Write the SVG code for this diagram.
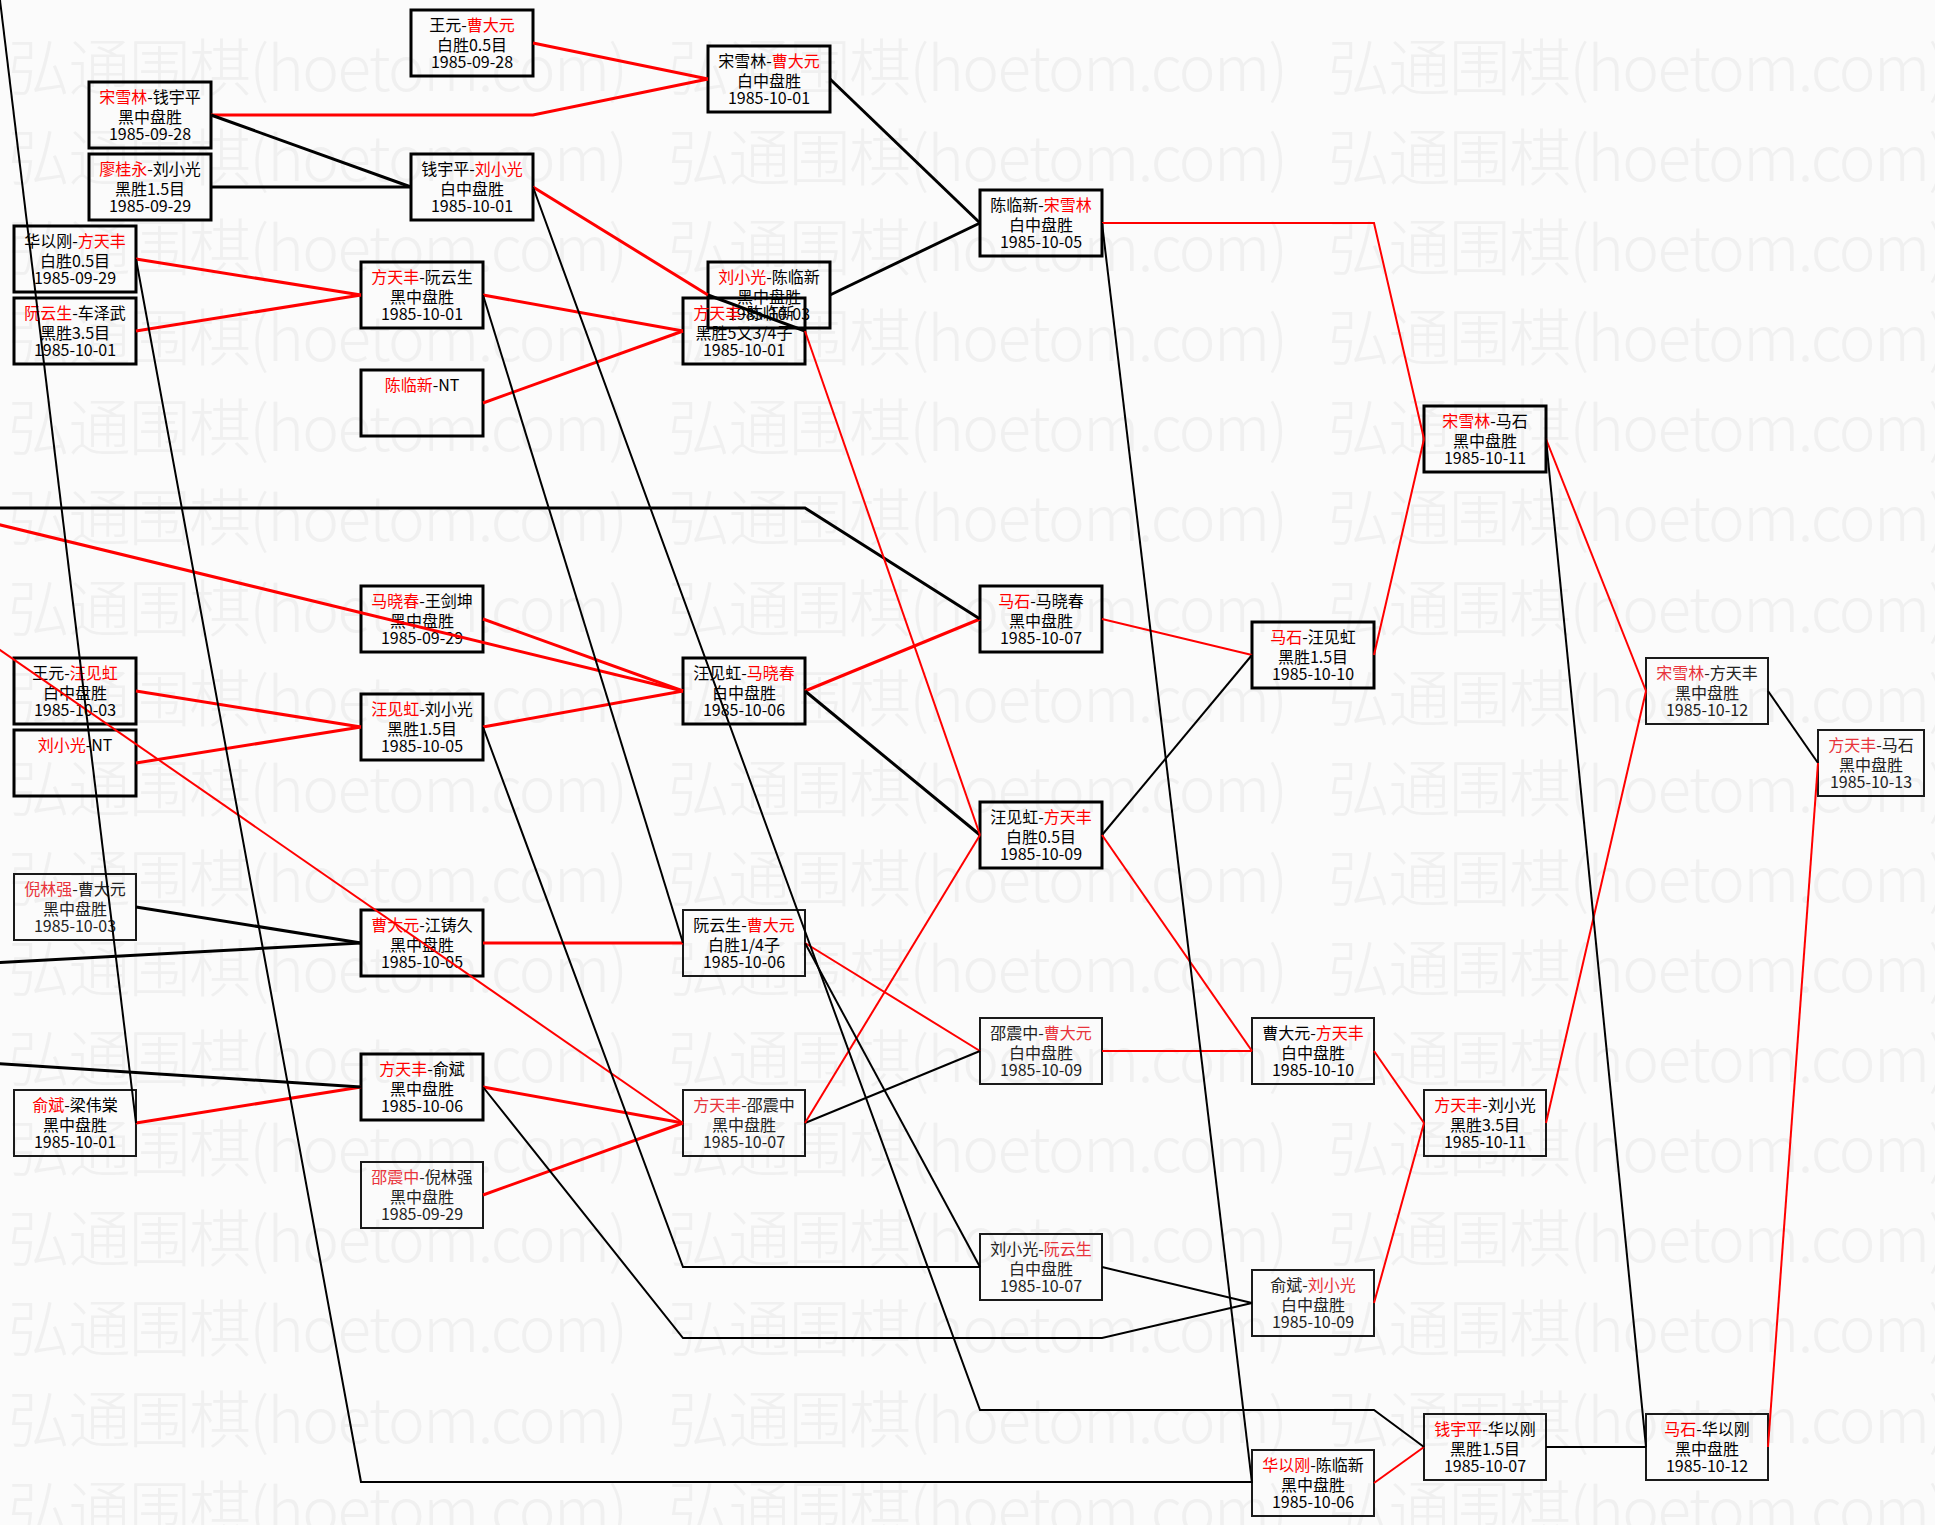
<svg xmlns="http://www.w3.org/2000/svg" width="1935" height="1525" viewBox="0 0 1935 1525">
<style>
.bg{fill:#fbfbfb}
.wm{font-family:"Noto Sans CJK SC","Noto Sans",sans-serif;font-size:62px;font-weight:300;fill:#f0f0f0}
.b3{fill:none;stroke:#000;stroke-width:3}
.b2{fill:none;stroke:#1a1a1a;stroke-width:2}
.t{font-family:"Noto Sans CJK SC","Noto Sans",sans-serif;font-size:16px;fill:#000;text-anchor:middle}
.tl{font-family:"Noto Sans CJK SC","Noto Sans",sans-serif;font-size:16px;fill:#222;text-anchor:middle}
.r{fill:#f00}
.tl .r{fill:#e8343c}
.lr{fill:none;stroke:#f00;stroke-width:2}
.lk{fill:none;stroke:#000;stroke-width:2}
.w3{stroke-width:3}
</style>
<rect class="bg" x="0" y="0" width="1935" height="1525"/>
<g id="watermark">
<text class="wm" x="8" y="91" textLength="620" lengthAdjust="spacing">弘通围棋(hoetom.com)</text><text class="wm" x="668" y="91" textLength="620" lengthAdjust="spacing">弘通围棋(hoetom.com)</text><text class="wm" x="1328" y="91" textLength="620" lengthAdjust="spacing">弘通围棋(hoetom.com)</text>
<text class="wm" x="8" y="181" textLength="620" lengthAdjust="spacing">弘通围棋(hoetom.com)</text><text class="wm" x="668" y="181" textLength="620" lengthAdjust="spacing">弘通围棋(hoetom.com)</text><text class="wm" x="1328" y="181" textLength="620" lengthAdjust="spacing">弘通围棋(hoetom.com)</text>
<text class="wm" x="8" y="271" textLength="620" lengthAdjust="spacing">弘通围棋(hoetom.com)</text><text class="wm" x="668" y="271" textLength="620" lengthAdjust="spacing">弘通围棋(hoetom.com)</text><text class="wm" x="1328" y="271" textLength="620" lengthAdjust="spacing">弘通围棋(hoetom.com)</text>
<text class="wm" x="8" y="361" textLength="620" lengthAdjust="spacing">弘通围棋(hoetom.com)</text><text class="wm" x="668" y="361" textLength="620" lengthAdjust="spacing">弘通围棋(hoetom.com)</text><text class="wm" x="1328" y="361" textLength="620" lengthAdjust="spacing">弘通围棋(hoetom.com)</text>
<text class="wm" x="8" y="451" textLength="620" lengthAdjust="spacing">弘通围棋(hoetom.com)</text><text class="wm" x="668" y="451" textLength="620" lengthAdjust="spacing">弘通围棋(hoetom.com)</text><text class="wm" x="1328" y="451" textLength="620" lengthAdjust="spacing">弘通围棋(hoetom.com)</text>
<text class="wm" x="8" y="541" textLength="620" lengthAdjust="spacing">弘通围棋(hoetom.com)</text><text class="wm" x="668" y="541" textLength="620" lengthAdjust="spacing">弘通围棋(hoetom.com)</text><text class="wm" x="1328" y="541" textLength="620" lengthAdjust="spacing">弘通围棋(hoetom.com)</text>
<text class="wm" x="8" y="632" textLength="620" lengthAdjust="spacing">弘通围棋(hoetom.com)</text><text class="wm" x="668" y="632" textLength="620" lengthAdjust="spacing">弘通围棋(hoetom.com)</text><text class="wm" x="1328" y="632" textLength="620" lengthAdjust="spacing">弘通围棋(hoetom.com)</text>
<text class="wm" x="8" y="722" textLength="620" lengthAdjust="spacing">弘通围棋(hoetom.com)</text><text class="wm" x="668" y="722" textLength="620" lengthAdjust="spacing">弘通围棋(hoetom.com)</text><text class="wm" x="1328" y="722" textLength="620" lengthAdjust="spacing">弘通围棋(hoetom.com)</text>
<text class="wm" x="8" y="812" textLength="620" lengthAdjust="spacing">弘通围棋(hoetom.com)</text><text class="wm" x="668" y="812" textLength="620" lengthAdjust="spacing">弘通围棋(hoetom.com)</text><text class="wm" x="1328" y="812" textLength="620" lengthAdjust="spacing">弘通围棋(hoetom.com)</text>
<text class="wm" x="8" y="902" textLength="620" lengthAdjust="spacing">弘通围棋(hoetom.com)</text><text class="wm" x="668" y="902" textLength="620" lengthAdjust="spacing">弘通围棋(hoetom.com)</text><text class="wm" x="1328" y="902" textLength="620" lengthAdjust="spacing">弘通围棋(hoetom.com)</text>
<text class="wm" x="8" y="992" textLength="620" lengthAdjust="spacing">弘通围棋(hoetom.com)</text><text class="wm" x="668" y="992" textLength="620" lengthAdjust="spacing">弘通围棋(hoetom.com)</text><text class="wm" x="1328" y="992" textLength="620" lengthAdjust="spacing">弘通围棋(hoetom.com)</text>
<text class="wm" x="8" y="1082" textLength="620" lengthAdjust="spacing">弘通围棋(hoetom.com)</text><text class="wm" x="668" y="1082" textLength="620" lengthAdjust="spacing">弘通围棋(hoetom.com)</text><text class="wm" x="1328" y="1082" textLength="620" lengthAdjust="spacing">弘通围棋(hoetom.com)</text>
<text class="wm" x="8" y="1172" textLength="620" lengthAdjust="spacing">弘通围棋(hoetom.com)</text><text class="wm" x="668" y="1172" textLength="620" lengthAdjust="spacing">弘通围棋(hoetom.com)</text><text class="wm" x="1328" y="1172" textLength="620" lengthAdjust="spacing">弘通围棋(hoetom.com)</text>
<text class="wm" x="8" y="1262" textLength="620" lengthAdjust="spacing">弘通围棋(hoetom.com)</text><text class="wm" x="668" y="1262" textLength="620" lengthAdjust="spacing">弘通围棋(hoetom.com)</text><text class="wm" x="1328" y="1262" textLength="620" lengthAdjust="spacing">弘通围棋(hoetom.com)</text>
<text class="wm" x="8" y="1352" textLength="620" lengthAdjust="spacing">弘通围棋(hoetom.com)</text><text class="wm" x="668" y="1352" textLength="620" lengthAdjust="spacing">弘通围棋(hoetom.com)</text><text class="wm" x="1328" y="1352" textLength="620" lengthAdjust="spacing">弘通围棋(hoetom.com)</text>
<text class="wm" x="8" y="1443" textLength="620" lengthAdjust="spacing">弘通围棋(hoetom.com)</text><text class="wm" x="668" y="1443" textLength="620" lengthAdjust="spacing">弘通围棋(hoetom.com)</text><text class="wm" x="1328" y="1443" textLength="620" lengthAdjust="spacing">弘通围棋(hoetom.com)</text>
<text class="wm" x="8" y="1533" textLength="620" lengthAdjust="spacing">弘通围棋(hoetom.com)</text><text class="wm" x="668" y="1533" textLength="620" lengthAdjust="spacing">弘通围棋(hoetom.com)</text><text class="wm" x="1328" y="1533" textLength="620" lengthAdjust="spacing">弘通围棋(hoetom.com)</text>
</g>
<g id="nodes">
<g id="n01"><rect class="b3" x="411" y="10" width="122" height="66"/><text class="t" x="472" y="31">王元-<tspan class="r">曹大元</tspan></text><text class="t" x="472" y="51">白胜0.5目</text><text class="t" x="472" y="68">1985-09-28</text></g>
<g id="n02"><rect class="b3" x="89" y="82" width="122" height="66"/><text class="t" x="150" y="103"><tspan class="r">宋雪林</tspan>-钱宇平</text><text class="t" x="150" y="123">黑中盘胜</text><text class="t" x="150" y="140">1985-09-28</text></g>
<g id="n03"><rect class="b3" x="89" y="154" width="122" height="66"/><text class="t" x="150" y="175"><tspan class="r">廖桂永</tspan>-刘小光</text><text class="t" x="150" y="195">黑胜1.5目</text><text class="t" x="150" y="212">1985-09-29</text></g>
<g id="n04"><rect class="b3" x="411" y="154" width="122" height="66"/><text class="t" x="472" y="175">钱宇平-<tspan class="r">刘小光</tspan></text><text class="t" x="472" y="195">白中盘胜</text><text class="t" x="472" y="212">1985-10-01</text></g>
<g id="n05"><rect class="b3" x="14" y="226" width="122" height="66"/><text class="t" x="75" y="247">华以刚-<tspan class="r">方天丰</tspan></text><text class="t" x="75" y="267">白胜0.5目</text><text class="t" x="75" y="284">1985-09-29</text></g>
<g id="n06"><rect class="b3" x="14" y="298" width="122" height="66"/><text class="t" x="75" y="319"><tspan class="r">阮云生</tspan>-车泽武</text><text class="t" x="75" y="339">黑胜3.5目</text><text class="t" x="75" y="356">1985-10-01</text></g>
<g id="n07"><rect class="b3" x="361" y="262" width="122" height="66"/><text class="t" x="422" y="283"><tspan class="r">方天丰</tspan>-阮云生</text><text class="t" x="422" y="303">黑中盘胜</text><text class="t" x="422" y="320">1985-10-01</text></g>
<g id="n08"><rect class="b3" x="361" y="370" width="122" height="66"/><text class="t" x="422" y="391"><tspan class="r">陈临新</tspan>-NT</text></g>
<g id="n09"><rect class="b3" x="708" y="46" width="122" height="66"/><text class="t" x="769" y="67">宋雪林-<tspan class="r">曹大元</tspan></text><text class="t" x="769" y="87">白中盘胜</text><text class="t" x="769" y="104">1985-10-01</text></g>
<g id="n10"><rect class="b3" x="980" y="190" width="122" height="66"/><text class="t" x="1041" y="211">陈临新-<tspan class="r">宋雪林</tspan></text><text class="t" x="1041" y="231">白中盘胜</text><text class="t" x="1041" y="248">1985-10-05</text></g>
<g id="n11"><rect class="b3" x="708" y="262" width="122" height="66"/><text class="t" x="769" y="283"><tspan class="r">刘小光</tspan>-陈临新</text><text class="t" x="769" y="303">黑中盘胜</text><text class="t" x="769" y="320">1985-10-03</text></g>
<g id="n12"><rect class="b3" x="683" y="298" width="122" height="66"/><text class="t" x="744" y="319"><tspan class="r">方天丰</tspan>-陈临新</text><text class="t" x="744" y="339">黑胜5又3/4子</text><text class="t" x="744" y="356">1985-10-01</text></g>
<g id="n13"><rect class="b3" x="1424" y="406" width="122" height="66"/><text class="t" x="1485" y="427"><tspan class="r">宋雪林</tspan>-马石</text><text class="t" x="1485" y="447">黑中盘胜</text><text class="t" x="1485" y="464">1985-10-11</text></g>
<g id="n14"><rect class="b3" x="361" y="586" width="122" height="66"/><text class="t" x="422" y="607"><tspan class="r">马晓春</tspan>-王剑坤</text><text class="t" x="422" y="627">黑中盘胜</text><text class="t" x="422" y="644">1985-09-29</text></g>
<g id="n15"><rect class="b3" x="14" y="658" width="122" height="66"/><text class="t" x="75" y="679">王元-<tspan class="r">汪见虹</tspan></text><text class="t" x="75" y="699">白中盘胜</text><text class="t" x="75" y="716">1985-10-03</text></g>
<g id="n16"><rect class="b3" x="361" y="694" width="122" height="66"/><text class="t" x="422" y="715"><tspan class="r">汪见虹</tspan>-刘小光</text><text class="t" x="422" y="735">黑胜1.5目</text><text class="t" x="422" y="752">1985-10-05</text></g>
<g id="n17"><rect class="b3" x="14" y="730" width="122" height="66"/><text class="t" x="75" y="751"><tspan class="r">刘小光</tspan>-NT</text></g>
<g id="n18"><rect class="b2" x="14" y="874" width="122" height="66"/><text class="tl" x="75" y="895"><tspan class="r">倪林强</tspan>-曹大元</text><text class="tl" x="75" y="915">黑中盘胜</text><text class="tl" x="75" y="932">1985-10-03</text></g>
<g id="n19"><rect class="b3" x="361" y="910" width="122" height="66"/><text class="t" x="422" y="931"><tspan class="r">曹大元</tspan>-江铸久</text><text class="t" x="422" y="951">黑中盘胜</text><text class="t" x="422" y="968">1985-10-05</text></g>
<g id="n20"><rect class="b3" x="683" y="658" width="122" height="66"/><text class="t" x="744" y="679">汪见虹-<tspan class="r">马晓春</tspan></text><text class="t" x="744" y="699">白中盘胜</text><text class="t" x="744" y="716">1985-10-06</text></g>
<g id="n21"><rect class="b3" x="980" y="586" width="122" height="66"/><text class="t" x="1041" y="607"><tspan class="r">马石</tspan>-马晓春</text><text class="t" x="1041" y="627">黑中盘胜</text><text class="t" x="1041" y="644">1985-10-07</text></g>
<g id="n22"><rect class="b3" x="1252" y="622" width="122" height="66"/><text class="t" x="1313" y="643"><tspan class="r">马石</tspan>-汪见虹</text><text class="t" x="1313" y="663">黑胜1.5目</text><text class="t" x="1313" y="680">1985-10-10</text></g>
<g id="n23"><rect class="b3" x="980" y="802" width="122" height="66"/><text class="t" x="1041" y="823">汪见虹-<tspan class="r">方天丰</tspan></text><text class="t" x="1041" y="843">白胜0.5目</text><text class="t" x="1041" y="860">1985-10-09</text></g>
<g id="n24"><rect class="b2" x="683" y="910" width="122" height="66"/><text class="t" x="744" y="931">阮云生-<tspan class="r">曹大元</tspan></text><text class="t" x="744" y="951">白胜1/4子</text><text class="t" x="744" y="968">1985-10-06</text></g>
<g id="n25"><rect class="b2" x="1646" y="658" width="122" height="66"/><text class="tl" x="1707" y="679"><tspan class="r">宋雪林</tspan>-方天丰</text><text class="tl" x="1707" y="699">黑中盘胜</text><text class="tl" x="1707" y="716">1985-10-12</text></g>
<g id="n26"><rect class="b2" x="1818" y="730" width="106" height="66"/><text class="tl" x="1871" y="751"><tspan class="r">方天丰</tspan>-马石</text><text class="tl" x="1871" y="771">黑中盘胜</text><text class="tl" x="1871" y="788">1985-10-13</text></g>
<g id="n27"><rect class="b2" x="14" y="1090" width="122" height="66"/><text class="t" x="75" y="1111"><tspan class="r">俞斌</tspan>-梁伟棠</text><text class="t" x="75" y="1131">黑中盘胜</text><text class="t" x="75" y="1148">1985-10-01</text></g>
<g id="n28"><rect class="b3" x="361" y="1054" width="122" height="66"/><text class="t" x="422" y="1075"><tspan class="r">方天丰</tspan>-俞斌</text><text class="t" x="422" y="1095">黑中盘胜</text><text class="t" x="422" y="1112">1985-10-06</text></g>
<g id="n29"><rect class="b2" x="361" y="1162" width="122" height="66"/><text class="tl" x="422" y="1183"><tspan class="r">邵震中</tspan>-倪林强</text><text class="tl" x="422" y="1203">黑中盘胜</text><text class="tl" x="422" y="1220">1985-09-29</text></g>
<g id="n30"><rect class="b2" x="980" y="1018" width="122" height="66"/><text class="tl" x="1041" y="1039">邵震中-<tspan class="r">曹大元</tspan></text><text class="tl" x="1041" y="1059">白中盘胜</text><text class="tl" x="1041" y="1076">1985-10-09</text></g>
<g id="n31"><rect class="b2" x="683" y="1090" width="122" height="66"/><text class="tl" x="744" y="1111"><tspan class="r">方天丰</tspan>-邵震中</text><text class="tl" x="744" y="1131">黑中盘胜</text><text class="tl" x="744" y="1148">1985-10-07</text></g>
<g id="n32"><rect class="b2" x="980" y="1234" width="122" height="66"/><text class="tl" x="1041" y="1255">刘小光-<tspan class="r">阮云生</tspan></text><text class="tl" x="1041" y="1275">白中盘胜</text><text class="tl" x="1041" y="1292">1985-10-07</text></g>
<g id="n33"><rect class="b2" x="1252" y="1270" width="122" height="66"/><text class="tl" x="1313" y="1291">俞斌-<tspan class="r">刘小光</tspan></text><text class="tl" x="1313" y="1311">白中盘胜</text><text class="tl" x="1313" y="1328">1985-10-09</text></g>
<g id="n34"><rect class="b2" x="1252" y="1450" width="122" height="66"/><text class="t" x="1313" y="1471"><tspan class="r">华以刚</tspan>-陈临新</text><text class="t" x="1313" y="1491">黑中盘胜</text><text class="t" x="1313" y="1508">1985-10-06</text></g>
<g id="n35"><rect class="b2" x="1252" y="1018" width="122" height="66"/><text class="t" x="1313" y="1039">曹大元-<tspan class="r">方天丰</tspan></text><text class="t" x="1313" y="1059">白中盘胜</text><text class="t" x="1313" y="1076">1985-10-10</text></g>
<g id="n36"><rect class="b2" x="1424" y="1090" width="122" height="66"/><text class="t" x="1485" y="1111"><tspan class="r">方天丰</tspan>-刘小光</text><text class="t" x="1485" y="1131">黑胜3.5目</text><text class="t" x="1485" y="1148">1985-10-11</text></g>
<g id="n37"><rect class="b2" x="1424" y="1414" width="122" height="66"/><text class="t" x="1485" y="1435"><tspan class="r">钱宇平</tspan>-华以刚</text><text class="t" x="1485" y="1455">黑胜1.5目</text><text class="t" x="1485" y="1472">1985-10-07</text></g>
<g id="n38"><rect class="b2" x="1646" y="1414" width="122" height="66"/><text class="t" x="1707" y="1435"><tspan class="r">马石</tspan>-华以刚</text><text class="t" x="1707" y="1455">黑中盘胜</text><text class="t" x="1707" y="1472">1985-10-12</text></g>
</g>
<g id="connectors">
<polyline class="lr w3" points="533,43 708,79"/>
<polyline class="lr w3" points="211,115 533,115 708,79"/>
<polyline class="lk w3" points="211,115 411,187"/>
<polyline class="lk w3" points="211,187 411,187"/>
<polyline class="lr w3" points="533,187 708,295"/>
<polyline class="lr w3" points="136,259 361,295"/>
<polyline class="lr w3" points="136,331 361,295"/>
<polyline class="lr w3" points="483,295 683,331"/>
<polyline class="lr w3" points="483,403 683,331"/>
<polyline class="lk w3" points="830,79 980,223"/>
<polyline class="lk w3" points="830,295 980,223"/>
<polyline class="lk w3" points="805,331 708,295"/>
<polyline class="lr w3" points="483,619 683,691"/>
<polyline class="lr w3" points="136,691 361,727"/>
<polyline class="lr w3" points="136,763 361,727"/>
<polyline class="lr w3" points="483,727 683,691"/>
<polyline class="lr w3" points="805,691 980,619"/>
<polyline class="lk w3" points="805,691 980,835"/>
<polyline class="lk w3" points="136,907 361,943"/>
<polyline class="lr w3" points="483,943 683,943"/>
<polyline class="lr w3" points="136,1123 361,1087"/>
<polyline class="lr w3" points="483,1087 683,1123"/>
<polyline class="lr w3" points="483,1195 683,1123"/>
<polyline class="lk w3" points="-10,963 361,943"/>
<polyline class="lk w3" points="-10,1063 361,1087"/>
<polyline class="lk w3" points="-10,508 805,508 980,619"/>
<polyline class="lr w3" points="-20,520 683,691"/>
<polyline class="lr" points="-10,643 683,1123"/>
<polyline class="lk" points="-5,-41 136,1123"/>
<polyline class="lr" points="1102,223 1374,223 1424,439"/>
<polyline class="lr" points="1546,439 1646,691"/>
<polyline class="lr" points="1374,655 1424,439"/>
<polyline class="lr" points="1102,619 1252,655"/>
<polyline class="lk" points="1102,835 1252,655"/>
<polyline class="lr" points="1102,835 1252,1051"/>
<polyline class="lr" points="1102,1051 1252,1051"/>
<polyline class="lr" points="805,943 980,1051"/>
<polyline class="lk" points="805,1123 980,1051"/>
<polyline class="lr" points="805,1123 980,835"/>
<polyline class="lr" points="805,331 980,835"/>
<polyline class="lr" points="1374,1051 1424,1123"/>
<polyline class="lr" points="1374,1303 1424,1123"/>
<polyline class="lr" points="1546,1123 1646,691"/>
<polyline class="lk" points="1768,691 1818,763"/>
<polyline class="lr" points="1768,1447 1818,763"/>
<polyline class="lk" points="1546,1447 1646,1447"/>
<polyline class="lr" points="1374,1483 1424,1447"/>
<polyline class="lk" points="1102,1267 1252,1303"/>
<polyline class="lk" points="1546,439 1646,1447"/>
<polyline class="lk" points="1102,223 1252,1483"/>
<polyline class="lk" points="533,187 980,1410 1374,1410 1424,1447"/>
<polyline class="lk" points="136,259 361,1482 1252,1482"/>
<polyline class="lk" points="483,295 683,943"/>
<polyline class="lk" points="483,727 683,1267 980,1267"/>
<polyline class="lk" points="805,943 980,1267"/>
<polyline class="lk" points="483,1087 683,1338 1102,1338 1252,1303"/>
</g>
</svg>
